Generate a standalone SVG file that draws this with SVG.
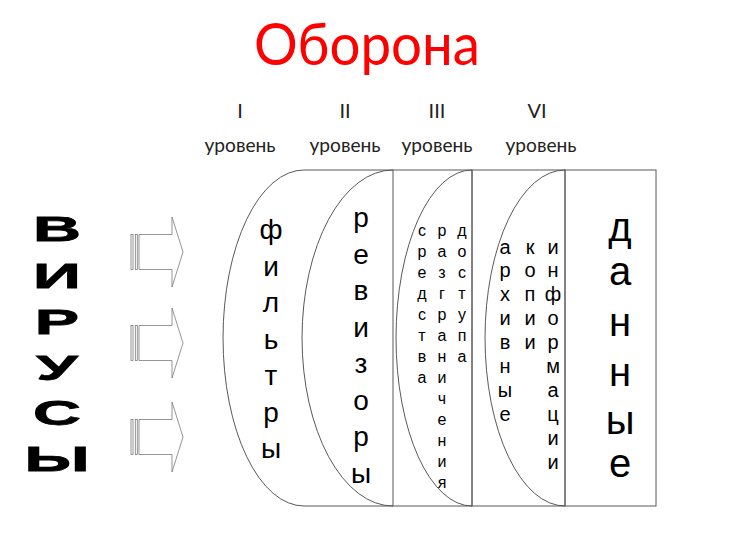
<svg xmlns="http://www.w3.org/2000/svg" xmlns:xlink="http://www.w3.org/1999/xlink" width="732" height="544" viewBox="0 0 732 544">
<style>
.ln{fill:none;stroke:#595959;stroke-width:1}
.t{font-family:"Liberation Sans",Arial,sans-serif;fill:#000;text-anchor:middle}
.lvl{font-family:Lato,"Open Sans",sans-serif;font-size:20px;fill:#222;text-anchor:middle}
.arr{fill:#fff;stroke:#7a7a7a;stroke-width:0.8}
.vir{font-family:"Liberation Sans",Arial,sans-serif;font-weight:bold;font-size:35px;fill:#000;stroke:#000;stroke-width:0.8;text-anchor:middle}
</style>
<defs>
<g id="arrow">
<rect class="arr" x="131" y="-17.5" width="2" height="35"/>
<rect class="arr" x="135.3" y="-17.5" width="2" height="35"/>
<path class="arr" d="M139,-17.5 H172 V-35 L183,0 L172,35 V17.5 H139 Z"/>
</g>
</defs>
<rect width="732" height="544" fill="#fff"/>
<g id="title">
<text x="367" y="65" font-family="Lato,'Open Sans',sans-serif" font-size="58" fill="#ff0000" text-anchor="middle" textLength="226" lengthAdjust="spacingAndGlyphs">Оборона</text>
</g>
<g id="levels">
<text class="lvl" x="240" y="118">I</text>
<text class="lvl" x="240" y="152" textLength="71" lengthAdjust="spacingAndGlyphs">уровень</text>
<text class="lvl" x="345" y="118">II</text>
<text class="lvl" x="345" y="152" textLength="71" lengthAdjust="spacingAndGlyphs">уровень</text>
<text class="lvl" x="437" y="118">III</text>
<text class="lvl" x="437" y="152" textLength="71" lengthAdjust="spacingAndGlyphs">уровень</text>
<text class="lvl" x="537" y="118">VI</text>
<text class="lvl" x="541" y="152" textLength="71" lengthAdjust="spacingAndGlyphs">уровень</text>
</g>
<g id="viruses">
<text class="vir" transform="translate(57,241) scale(1.9,1)">В</text>
<text class="vir" transform="translate(57,288) scale(1.9,1)">И</text>
<text class="vir" transform="translate(57,334) scale(1.9,1)">Р</text>
<text class="vir" transform="translate(57,380) scale(1.9,1)">У</text>
<text class="vir" transform="translate(57,425) scale(1.9,1)">С</text>
<text class="vir" transform="translate(57,471) scale(1.9,1)">Ы</text>
</g>
<g id="arrows">
<use xlink:href="#arrow" href="#arrow" y="252"/>
<use xlink:href="#arrow" href="#arrow" y="343"/>
<use xlink:href="#arrow" href="#arrow" y="437"/>
</g>
<g id="level1-filters">
<path class="ln" d="M393,170 H304 A81,168 0 0 0 304,506 H393"/>
<text class="t" font-size="28"><tspan x="271" y="239">ф</tspan><tspan x="271" dy="36.5">и</tspan><tspan x="271" dy="36.5">л</tspan><tspan x="271" dy="36.5">ь</tspan><tspan x="271" dy="36.5">т</tspan><tspan x="271" dy="36.5">р</tspan><tspan x="271" dy="36.5">ы</tspan></text>
</g>
<g id="level2-revisors">
<path class="ln" d="M393,170 A91,168 0 0 0 393,506"/>
<text class="t" font-size="28"><tspan x="361" y="227">р</tspan><tspan x="361" dy="36.5">е</tspan><tspan x="361" dy="36.5">в</tspan><tspan x="361" dy="36.5">и</tspan><tspan x="361" dy="36.5">з</tspan><tspan x="361" dy="36.5">о</tspan><tspan x="361" dy="36.5">р</tspan><tspan x="361" dy="36.5">ы</tspan></text>
</g>
<g id="level3-access">
<rect class="ln" x="393" y="170" width="79" height="336"/>
<path class="ln" d="M472,170 A76,168 0 0 0 472,506"/>
<text class="t" font-size="16"><tspan x="422" y="236">с</tspan><tspan x="422" dy="21">р</tspan><tspan x="422" dy="21">е</tspan><tspan x="422" dy="21">д</tspan><tspan x="422" dy="21">с</tspan><tspan x="422" dy="21">т</tspan><tspan x="422" dy="21">в</tspan><tspan x="422" dy="21">а</tspan></text>
<text class="t" font-size="16"><tspan x="442" y="236">р</tspan><tspan x="442" dy="21">а</tspan><tspan x="442" dy="21">з</tspan><tspan x="442" dy="21">г</tspan><tspan x="442" dy="21">р</tspan><tspan x="442" dy="21">а</tspan><tspan x="442" dy="21">н</tspan><tspan x="442" dy="21">и</tspan><tspan x="442" dy="21">ч</tspan><tspan x="442" dy="21">е</tspan><tspan x="442" dy="21">н</tspan><tspan x="442" dy="21">и</tspan><tspan x="442" dy="21">я</tspan></text>
<text class="t" font-size="16"><tspan x="462" y="236">д</tspan><tspan x="462" dy="21">о</tspan><tspan x="462" dy="21">с</tspan><tspan x="462" dy="21">т</tspan><tspan x="462" dy="21">у</tspan><tspan x="462" dy="21">п</tspan><tspan x="462" dy="21">а</tspan></text>
</g>
<g id="level4-archives">
<rect class="ln" x="472" y="170" width="93" height="336"/>
<path class="ln" d="M565,170 A80,168 0 0 0 565,506"/>
<text class="t" font-size="20"><tspan x="505" y="253.5">а</tspan><tspan x="505" dy="23.9">р</tspan><tspan x="505" dy="23.9">х</tspan><tspan x="505" dy="23.9">и</tspan><tspan x="505" dy="23.9">в</tspan><tspan x="505" dy="23.9">н</tspan><tspan x="505" dy="23.9">ы</tspan><tspan x="505" dy="23.9">е</tspan></text>
<text class="t" font-size="20"><tspan x="530" y="253.5">к</tspan><tspan x="530" dy="23.9">о</tspan><tspan x="530" dy="23.9">п</tspan><tspan x="530" dy="23.9">и</tspan><tspan x="530" dy="23.9">и</tspan></text>
<text class="t" font-size="20"><tspan x="553" y="253.5">и</tspan><tspan x="553" dy="23.9">н</tspan><tspan x="553" dy="23.9">ф</tspan><tspan x="553" dy="23.9">о</tspan><tspan x="553" dy="23.9">р</tspan><tspan x="553" dy="23.9">м</tspan><tspan x="553" dy="23.9">а</tspan><tspan x="553" dy="23.9">ц</tspan><tspan x="553" dy="23.9">и</tspan><tspan x="553" dy="23.9">и</tspan></text>
</g>
<g id="data">
<rect class="ln" x="565" y="170" width="91" height="336"/>
<text class="t" font-size="40"><tspan x="620" y="241">д</tspan><tspan x="620" y="285">а</tspan><tspan x="620" y="336">н</tspan><tspan x="620" y="386">н</tspan><tspan x="620" y="434">ы</tspan><tspan x="620" y="477">е</tspan></text>
</g>
</svg>
